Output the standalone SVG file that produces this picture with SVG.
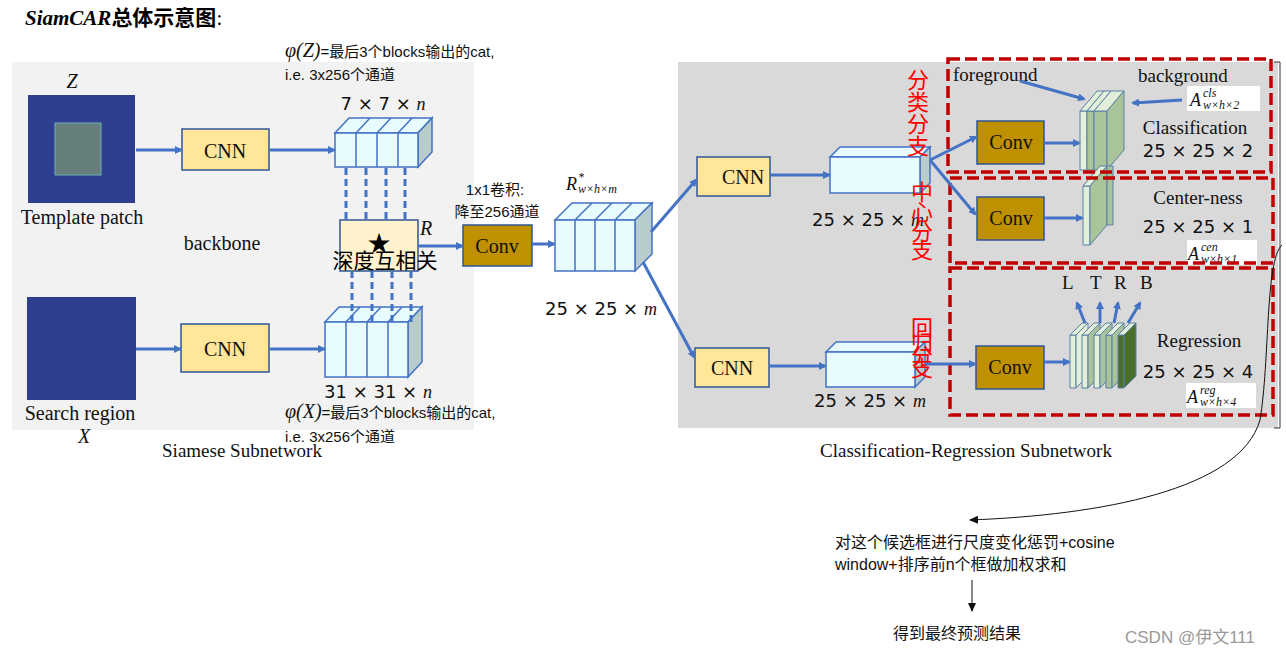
<svg xmlns="http://www.w3.org/2000/svg" width="1286" height="656" viewBox="0 0 1286 656">
<style>
.s{font-family:"Liberation Serif",serif;fill:#111}
.a{font-family:"Liberation Sans","Noto Sans CJK SC",sans-serif;fill:#111}
.m{font-family:"DejaVu Sans",sans-serif;fill:#111}
.cnn{fill:#ffe699;stroke:#2f5597;stroke-width:1.5}
.conv{fill:#bf9000;stroke:#2f5597;stroke-width:1.5}
.fr{fill:#e8fcff;stroke:#4472c4;stroke-width:1.5}
.tp{fill:#e8fcff;stroke:#4472c4;stroke-width:1.5}
.sd{fill:#b8cccc;stroke:#4472c4;stroke-width:1.5}
.ar{stroke:#4472c4;stroke-width:3;fill:none;marker-end:url(#ah)}
.dl{stroke:#4472c4;stroke-width:3;stroke-dasharray:7 4}
.red{fill:none;stroke:#c00000;stroke-width:3.5;stroke-dasharray:12 5}
.rt{font-family:"Noto Sans CJK SC",sans-serif;fill:#ff0000;font-size:22px}
.wb{fill:#fff}
.lg{fill:#e2f0d9;stroke:#5b7fa6;stroke-width:1}
.mg{fill:#a9c49a;stroke:#5b7fa6;stroke-width:1}
.sub{font-family:"Liberation Serif",serif;font-style:italic;font-size:12px;fill:#111}
</style>
<defs>
<marker id="ah" markerWidth="8" markerHeight="8" refX="6" refY="4" orient="auto" markerUnits="userSpaceOnUse"><path d="M0,0 L8,4 L0,8 z" fill="#4472c4"/></marker>
<marker id="bk" markerWidth="10" markerHeight="10" refX="8" refY="5" orient="auto" markerUnits="userSpaceOnUse"><path d="M0,1 L9,5 L0,9 z" fill="#111"/></marker>
</defs>
<rect width="1286" height="656" fill="#fff"/>
<rect x="12" y="62" width="462" height="368" fill="#f2f2f2"/>
<rect x="678" y="62" width="600" height="366" fill="#d9d9d9"/>
<text x="25" y="25" font-family="'Liberation Serif','Noto Sans CJK SC',serif" font-size="21" font-weight="bold" font-style="italic">SiamCAR<tspan font-family="'Noto Sans CJK SC',sans-serif" font-style="normal">总体示意图</tspan><tspan font-style="normal" font-weight="normal">:</tspan></text>

<g id="template"><rect x="28" y="95" width="107" height="108" fill="#2e3f8f"/><rect x="55" y="123" width="46" height="52" fill="#8ca870" opacity="0.6" stroke="#9fc"/><text x="72" y="88" class="s" font-size="20" font-style="italic" text-anchor="middle">Z</text><text x="82" y="224" class="s" font-size="20" text-anchor="middle">Template patch</text></g>
<g id="search"><rect x="27" y="297" width="109" height="103" fill="#2e3f8f"/><text x="80" y="420" class="s" font-size="20" text-anchor="middle">Search region</text><text x="84" y="443" class="s" font-size="20" font-style="italic" text-anchor="middle">X</text></g>
<g id="cnn1"><rect class="cnn" x="182" y="129" width="87" height="41"/><text x="225" y="158" class="s" font-size="20" text-anchor="middle">CNN</text></g>
<g id="cnn2"><rect class="cnn" x="181" y="324" width="88" height="48"/><text x="225" y="356" class="s" font-size="20" text-anchor="middle">CNN</text></g>
<text x="222" y="250" class="s" font-size="20" text-anchor="middle">backbone</text>
<g id="featZ">
<polygon class="tp" points="335,133 349,118 432,118 418,133"/><polygon class="sd" points="418,133 432,118 432,152 418,167"/>
<rect class="fr" x="335" y="133" width="83" height="34"/>
<path d="M356,133V167M377,133V167M398,133V167M356,133l14,-15M377,133l14,-15M398,133l14,-15" stroke="#4472c4" stroke-width="1.5" fill="none"/>
<text x="383" y="110" class="m" font-size="18" text-anchor="middle">7 × 7 × <tspan font-family="Liberation Serif" font-style="italic">n</tspan></text></g>
<g id="featX">
<polygon class="tp" points="325,322 339,307 422,307 408,322"/><polygon class="sd" points="408,322 422,307 422,362 408,377"/>
<rect class="fr" x="325" y="322" width="83" height="55"/>
<path d="M346,322V377M367,322V377M388,322V377M346,322l14,-15M367,322l14,-15M388,322l14,-15" stroke="#4472c4" stroke-width="1.5" fill="none"/>
<text x="378" y="398" class="m" font-size="18" text-anchor="middle">31 × 31 × <tspan font-family="Liberation Serif" font-style="italic">n</tspan></text></g>
<g id="xcorr"><rect x="340" y="220" width="78" height="51" fill="#fff2cc" stroke="#2f5597" stroke-width="1.5"/><text x="379" y="253" font-family="DejaVu Sans" font-size="28" text-anchor="middle" fill="#000">★</text><text x="385" y="268" font-family="'Noto Sans CJK SC',sans-serif" font-size="21" text-anchor="middle" fill="#000">深度互相关</text><text x="426" y="235" class="s" font-size="20" font-style="italic" text-anchor="middle">R</text></g>
<g id="conv0"><rect class="conv" x="463" y="225" width="69" height="41"/><text x="497" y="253" class="s" font-size="20" text-anchor="middle">Conv</text></g>
<text x="495" y="195" class="a" font-size="15" text-anchor="middle">1x1卷积:</text>
<text x="497" y="217" class="a" font-size="15" text-anchor="middle">降至256通道</text>
<g id="featR">
<polygon class="tp" points="555,220 572,203 652,203 635,220"/><polygon class="sd" points="635,220 652,203 652,254 635,271"/>
<rect class="fr" x="555" y="220" width="80" height="51"/>
<path d="M575,220V271M595,220V271M615,220V271M575,220l17,-17M595,220l17,-17M615,220l17,-17" stroke="#4472c4" stroke-width="1.5" fill="none"/>
<text x="566" y="190" class="s" font-size="18" font-style="italic">R</text><text x="578" y="181" class="sub">*</text><text x="578" y="193" class="sub">w×h×m</text>
<text x="601" y="315" class="m" font-size="18" text-anchor="middle">25 × 25 × <tspan font-family="Liberation Serif" font-style="italic">m</tspan></text></g>
<text x="285" y="57" class="a" font-size="15"><tspan font-family="Liberation Serif" font-size="20" font-style="italic">φ(Z)</tspan>=最后3个blocks输出的cat,</text>
<text x="285" y="80" class="a" font-size="15">i.e. 3x256个通道</text>
<text x="285" y="418" class="a" font-size="15"><tspan font-family="Liberation Serif" font-size="20" font-style="italic">φ(X)</tspan>=最后3个blocks输出的cat,</text>
<text x="285" y="442" class="a" font-size="15">i.e. 3x256个通道</text>
<text x="242" y="457" class="s" font-size="19" text-anchor="middle">Siamese Subnetwork</text>

<g id="cnn3"><rect class="cnn" x="697" y="157" width="73" height="39"/><text x="743" y="184" class="s" font-size="20" text-anchor="middle">CNN</text></g>
<g id="cnn4"><rect class="cnn" x="695" y="348" width="74" height="39"/><text x="732" y="375" class="s" font-size="20" text-anchor="middle">CNN</text></g>
<g id="box1"><polygon class="tp" points="830,157 840,147 930,147 920,157"/><polygon class="sd" points="920,157 930,147 930,183 920,193"/><rect class="fr" x="830" y="157" width="90" height="36"/><text x="868" y="226" class="m" font-size="18" text-anchor="middle">25 × 25 × <tspan font-family="Liberation Serif" font-style="italic">m</tspan></text></g>
<g id="box2"><polygon class="tp" points="826,352 836,342 925,342 915,352"/><polygon class="sd" points="915,352 925,342 925,377 915,387"/><rect class="fr" x="826" y="352" width="89" height="35"/><text x="870" y="407" class="m" font-size="18" text-anchor="middle">25 × 25 × <tspan font-family="Liberation Serif" font-style="italic">m</tspan></text></g>
<g id="convc"><rect class="conv" x="977" y="121" width="67" height="43"/><text x="1011" y="149" class="s" font-size="20" text-anchor="middle">Conv</text></g>
<g id="convn"><rect class="conv" x="977" y="197" width="67" height="43"/><text x="1011" y="225" class="s" font-size="20" text-anchor="middle">Conv</text></g>
<g id="convr"><rect class="conv" x="976" y="346" width="68" height="43"/><text x="1010" y="374" class="s" font-size="20" text-anchor="middle">Conv</text></g>
<g id="mapc">
<polygon class="lg" points="1080,111 1087,111 1087,170 1080,170"/><polygon class="lg" points="1080,111 1097,91 1104,91 1087,111"/>
<polygon class="mg" points="1087,111 1094,111 1094,170 1087,170"/><polygon class="lg" points="1087,111 1104,91 1111,91 1094,111"/>
<polygon class="mg" points="1094,111 1107,111 1107,170 1094,170"/><polygon class="lg" points="1094,111 1111,91 1124,91 1107,111"/>
<polygon class="mg" points="1107,111 1124,91 1124,150 1107,170"/>
</g>
<g id="mapn"><polygon class="lg" points="1083,186 1090,186 1090,245 1083,245"/><polygon class="lg" points="1083,186 1100,166 1107,166 1090,186"/><polygon class="mg" points="1090,186 1107,166 1107,225 1090,245"/><polygon class="mg" points="1107,166 1113,166 1113,225 1107,225"/></g>
<g id="mapr">
<g transform="translate(1070,0)"><polygon class="lg" points="0,335 6,335 6,388 0,388"/><polygon class="lg" points="0,335 12,323 18,323 6,335"/><polygon class="lg" points="6,335 18,323 18,376 6,388"/></g>
<g transform="translate(1082,0)"><polygon class="lg" points="0,335 6,335 6,388 0,388"/><polygon class="lg" points="0,335 12,323 18,323 6,335"/><polygon class="mg" points="6,335 18,323 18,376 6,388"/></g>
<g transform="translate(1094,0)"><polygon class="lg" points="0,335 6,335 6,388 0,388"/><polygon class="lg" points="0,335 12,323 18,323 6,335"/><polygon class="mg" points="6,335 18,323 18,376 6,388"/></g>
<g transform="translate(1106,0)"><polygon class="mg" points="0,335 6,335 6,388 0,388"/><polygon class="lg" points="0,335 12,323 18,323 6,335"/><polygon class="mg" points="6,335 18,323 18,376 6,388"/></g>
<g transform="translate(1118,0)"><polygon fill="#4a6e2c" stroke="#5b7fa6" points="0,335 6,335 6,388 0,388"/><polygon class="lg" points="0,335 12,323 18,323 6,335"/><polygon fill="#4a6e2c" stroke="#5b7fa6" points="6,335 18,323 18,376 6,388"/></g>
</g>
<g id="labels">
<text x="953" y="81" class="s" font-size="19">foreground</text>
<text x="1138" y="82" class="s" font-size="19">background</text>
<rect class="wb" x="1187" y="86" width="73" height="25"/>
<text x="1190" y="106" class="s" font-size="18" font-style="italic">A</text><text x="1203" y="97" class="sub">cls</text><text x="1203" y="109" class="sub">w×h×2</text>
<text x="1195" y="134" class="s" font-size="19" text-anchor="middle">Classification</text>
<text x="1198" y="157" class="m" font-size="18" text-anchor="middle">25 × 25 × 2</text>
<text x="1198" y="204" class="s" font-size="19" text-anchor="middle">Center-ness</text>
<text x="1198" y="233" class="m" font-size="18" text-anchor="middle">25 × 25 × 1</text>
<rect class="wb" x="1187" y="240" width="70" height="25"/>
<text x="1188" y="260" class="s" font-size="18" font-style="italic">A</text><text x="1201" y="251" class="sub">cen</text><text x="1201" y="263" class="sub">w×h×1</text>
<text x="1062" y="289" class="s" font-size="19">L</text><text x="1090" y="289" class="s" font-size="19">T</text><text x="1114" y="289" class="s" font-size="19">R</text><text x="1140" y="289" class="s" font-size="19">B</text>
<text x="1199" y="347" class="s" font-size="19" text-anchor="middle">Regression</text>
<text x="1198" y="378" class="m" font-size="18" text-anchor="middle">25 × 25 × 4</text>
<rect class="wb" x="1186" y="383" width="70" height="25"/>
<text x="1187" y="403" class="s" font-size="18" font-style="italic">A</text><text x="1200" y="394" class="sub">reg</text><text x="1200" y="406" class="sub">w×h×4</text>
<text x="966" y="457" class="s" font-size="19" text-anchor="middle">Classification-Regression Subnetwork</text>
</g>
<g id="redboxes">
<rect class="red" x="948" y="59" width="323" height="113"/>
<rect class="red" x="950" y="178" width="323" height="85"/>
<rect class="red" x="950" y="268" width="323" height="147"/>
<text class="rt" x="918" y="88" text-anchor="middle">分</text><text class="rt" x="918" y="110" text-anchor="middle">类</text><text class="rt" x="918" y="132" text-anchor="middle">分</text><text class="rt" x="918" y="154" text-anchor="middle">支</text>
<text class="rt" x="922" y="200" text-anchor="middle">中</text><text class="rt" x="922" y="220" text-anchor="middle">心</text><text class="rt" x="922" y="240" text-anchor="middle">分</text><text class="rt" x="922" y="258" text-anchor="middle">支</text>
<text class="rt" x="922" y="336" text-anchor="middle">回</text><text class="rt" x="922" y="350" text-anchor="middle">归</text><text class="rt" x="922" y="364" text-anchor="middle">分</text><text class="rt" x="922" y="376" text-anchor="middle">支</text>
</g>
<g id="connectors">
<path class="ar" d="M136,150H181"/><path class="ar" d="M269,150H334"/>
<path class="ar" d="M136,349H180"/><path class="ar" d="M269,349H324"/>
<path class="dl" d="M346,168V220M366,168V220M386,168V220M405,168V220M352,271V322M372,271V322M392,271V322M411,271V322"/>
<path class="ar" d="M418,246H462"/><path class="ar" d="M532,244H554"/>
<path class="ar" d="M651,232L696,180"/><path class="ar" d="M643,262L694,357"/>
<path class="ar" d="M770,175H829"/><path class="ar" d="M769,366H825"/>
<path class="ar" d="M930,160L976,137"/><path class="ar" d="M930,160L975,214"/><path class="ar" d="M925,364H975"/>
<path class="ar" d="M1044,143H1079"/><path class="ar" d="M1044,218H1082"/><path class="ar" d="M1044,362H1069"/>
<path class="ar" d="M1020,81L1084,99"/><path class="ar" d="M1182,100L1133,103"/>
<path class="ar" stroke-width="2" d="M1085,323L1077,303"/><path class="ar" stroke-width="2" d="M1100,323V303"/><path class="ar" stroke-width="2" d="M1114,323L1118,303"/><path class="ar" stroke-width="2" d="M1128,323L1140,303"/>
<path d="M1274,62H1280V428H1274" fill="none" stroke="#333" stroke-width="1"/>
<path d="M1282,245C1265,260 1270,360 1260,420C1240,490 1100,515 970,520" fill="none" stroke="#111" stroke-width="1" marker-end="url(#bk)"/>
<path d="M972,580V611" stroke="#111" stroke-width="1" marker-end="url(#bk)"/>
</g>
<text x="835" y="548" class="a" font-size="16">对这个候选框进行尺度变化惩罚+cosine</text>
<text x="835" y="570" class="a" font-size="16">window+排序前n个框做加权求和</text>
<text x="893" y="639" class="a" font-size="16">得到最终预测结果</text>
<text x="1125" y="643" font-family="'Liberation Sans','Noto Sans CJK SC',sans-serif" font-size="17" fill="#999">CSDN @伊文111</text>
</svg>
